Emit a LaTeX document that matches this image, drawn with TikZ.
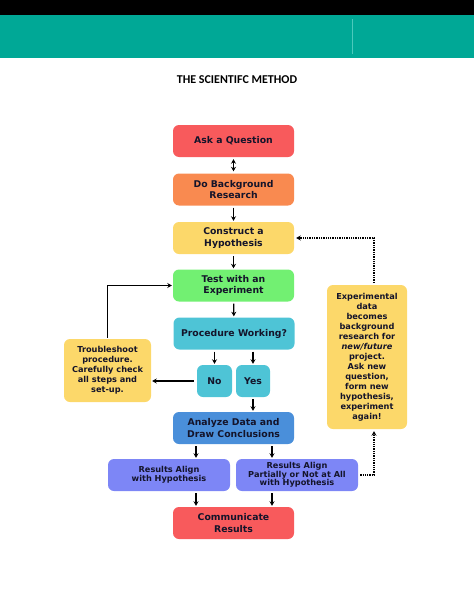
\documentclass[tikz,border=0pt]{standalone}
\usepackage{fontspec}
\newfontfamily\dv{DejaVu Sans}
\newfontfamily\carl{Carlito}
\usetikzlibrary{arrows.meta,calc}
\definecolor{teal1}{HTML}{00A896}
\definecolor{teal2}{HTML}{4CC9BC}
\definecolor{cred}{HTML}{F85A5C}
\definecolor{corange}{HTML}{F98A50}
\definecolor{cyellow}{HTML}{FCD86A}
\definecolor{cgreen}{HTML}{72F072}
\definecolor{ccyan}{HTML}{4EC4D6}
\definecolor{cblue}{HTML}{4A8FDA}
\definecolor{cperi}{HTML}{7D86F6}
\definecolor{txt}{HTML}{14142A}
\begin{document}
\begin{tikzpicture}[x=1pt,y=-1pt,
  box/.style={rounded corners=6pt, minimum width=121pt, minimum height=32pt,
    align=center, text=txt, inner sep=1pt,
    font=\dv\bfseries\fontsize{9.3}{11.5}\selectfont},
  sbox/.style={box, font=\dv\bfseries\fontsize{8.2}{8.6}\selectfont},
  tbox/.style={box, font=\dv\bfseries\fontsize{8.2}{10}\selectfont},
  arr/.style={-{Stealth[length=4.5pt,width=5pt]}, line width=1.3pt, black},
  dots/.style={densely dotted, line width=1.3pt, black},
  darr/.style={dots, -{Stealth[length=4.5pt,width=5pt]}}
]
\useasboundingbox (0,0) rectangle (474,613);
\fill[black] (0,0) rectangle (474,15);
\fill[teal1] (0,15) rectangle (474,58);
\draw[teal2, line width=0.8pt] (352,19) -- (352,54);
\node[font=\carl\bfseries\fontsize{12}{14}\selectfont] (title) at (237,80) {THE SCIENTIFC METHOD};

\node[box, fill=cred] (ask) at (233.5,141) {Ask a Question};
\node[box, fill=corange] (bg) at (233.5,189.5) {Do Background\\Research};
\node[box, fill=cyellow] (hyp) at (233.5,238) {Construct a\\Hypothesis};
\node[box, fill=cgreen] (test) at (233.5,285.5) {Test with an\\Experiment};
\node[box, fill=ccyan] (proc) at (234,333.5) {Procedure Working?};
\node[box, fill=ccyan, minimum width=35pt] (no) at (214.5,381) {No};
\node[box, fill=ccyan, minimum width=34pt] (yes) at (253,381) {Yes};
\node[tbox, fill=cyellow, minimum width=87pt, minimum height=63pt] (trouble) at (107.5,370.5)
  {Troubleshoot\\procedure.\\Carefully check\\all steps and\\set-up.};
\node[box, fill=cblue] (analyze) at (233.5,428) {Analyze Data and\\Draw Conclusions};
\node[sbox, fill=cperi, minimum width=122pt] (ralign) at (169,475) {Results Align\\with Hypothesis};
\node[sbox, fill=cperi, minimum width=122pt] (rpart) at (297,475) {Results Align\\Partially or Not at All\\with Hypothesis};
\node[box, fill=cred] (comm) at (233.5,523) {Communicate\\Results};
\node[tbox, fill=cyellow, minimum width=80pt, minimum height=144pt] (exp) at (367,357)
  {Experimental\\data\\becomes\\background\\research for\\\textit{new/future}\\project.\\Ask new\\question,\\form new\\hypothesis,\\experiment\\again!};

\coordinate (c1) at (196,0);
\coordinate (c2) at (272,0);
\coordinate (c3) at (374,0);

\draw[arr, {Stealth[length=4.5pt,width=5pt]}-{Stealth[length=4.5pt,width=5pt]}, shorten <=2pt, shorten >=2pt] (ask) -- (bg);
\draw[arr, shorten <=2pt, shorten >=1pt] (bg) -- (hyp);
\draw[arr, shorten <=2pt, shorten >=1pt] (hyp) -- (test);
\draw[arr, shorten <=2pt, shorten >=1pt] (test) -- (proc);
\draw[arr, shorten <=2pt, shorten >=1pt] (proc.south -| no) -- (no);
\draw[arr, shorten <=2pt, shorten >=1pt] (proc.south -| yes) -- (yes);
\draw[arr, shorten <=2pt, shorten >=1pt] (yes) -- (yes |- analyze.north);
\draw[arr, shorten <=3pt, shorten >=1pt] (no.west) -- (no.west -| trouble.east);
\draw[arr, shorten <=1pt, shorten >=1pt] (trouble.north) |- (test.west);
\draw[arr, shorten <=2pt, shorten >=1pt] (analyze.south -| c1) -- (ralign.north -| c1);
\draw[arr, shorten <=2pt, shorten >=1pt] (analyze.south -| c2) -- (rpart.north -| c2);
\draw[arr, shorten <=2pt, shorten >=1pt] (ralign.south -| c1) -- (comm.north -| c1);
\draw[arr, shorten <=2pt, shorten >=1pt] (rpart.south -| c2) -- (comm.north -| c2);
\draw[darr, shorten <=2pt, shorten >=2pt] (rpart.east) -- (rpart.east -| c3) -- (exp.south -| c3);
\draw[darr, shorten <=2pt, shorten >=2pt] (exp.north -| c3) |- (hyp.east);
\end{tikzpicture}
\end{document}
